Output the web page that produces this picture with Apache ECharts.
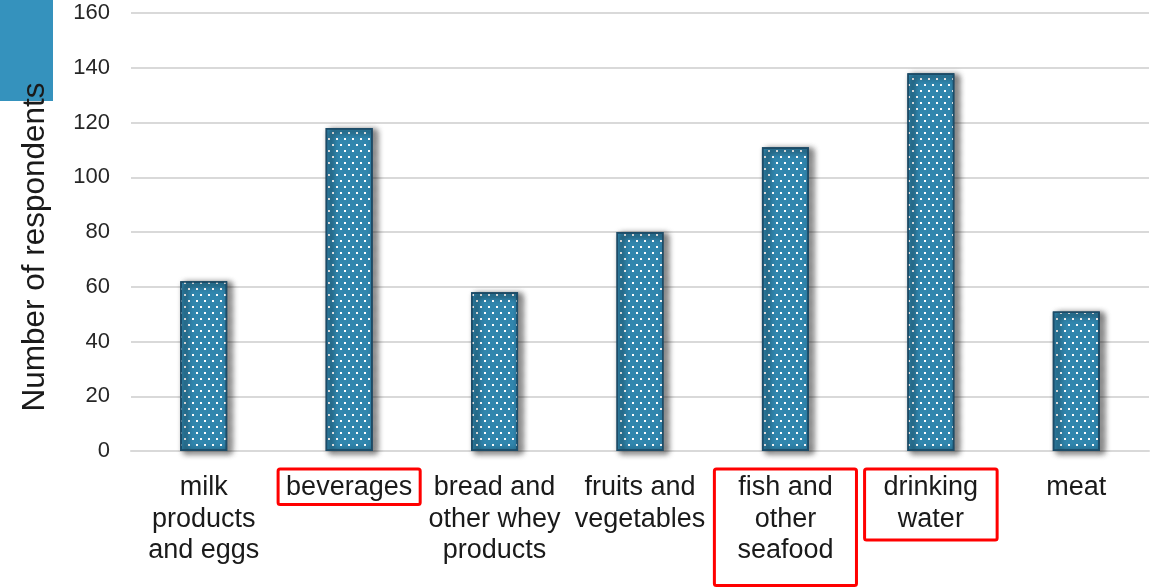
<!DOCTYPE html>
<html>
<head>
<meta charset="utf-8">
<title>Number of respondents</title>
<script src="https://cdn.jsdelivr.net/npm/echarts@6/dist/echarts.min.js"></script>
<style>
    html, body {margin: 0; padding: 0; background: #fff;}
    #chart {width: 1156px; height: 587px;}
</style>
</head>
<body>
<div id="chart"></div>
<script>
// data
var categories = [
    'milk\nproducts\nand eggs',
    'beverages',
    'bread and\nother whey\nproducts',
    'fruits and\nvegetables',
    'fish and\nother\nseafood',
    'drinking\nwater',
    'meat'
];
var respondents = [62, 118, 58, 80, 111, 138, 51];
// categories that have a red box round their label, with the box padding
var boxed = {
    'beverages': [3, 8, 1, 8],
    'fish and\nother\nseafood': [3, 23, 19, 23],
    'drinking\nwater': [3, 19, 5, 19]
};

var fontName = 'Arial, "Liberation Sans", sans-serif';
var barColor = '#3592bd';

var axisData = categories.map(function (name) {
    if (!boxed[name]) {
        return name;
    }
    return {
        value: name,
        textStyle: {
            borderColor: '#ff0000',
            borderWidth: 3,
            borderRadius: 2,
            padding: boxed[name]
        }
    };
});

var myChart = echarts.init(document.getElementById('chart'));
var option = {
    backgroundColor: '#fff',
    animation: false,
    aria: {
        enabled: true,
        decal: {show: true}
    },
    graphic: [
        {
            type: 'rect',
            left: 0,
            top: 0,
            z: -10,
            shape: {width: 53, height: 101},
            style: {fill: barColor}
        }
    ],
    grid: {
        left: 131,
        right: 7,
        top: 13,
        bottom: 135
    },
    xAxis: {
        type: 'category',
        data: axisData,
        axisTick: {show: false},
        axisLine: {lineStyle: {color: '#d9d9d9', width: 2}},
        axisLabel: {
            interval: 0,
            margin: 18,
            padding: [3, 0, 0, 0],
            color: '#1a1a1a',
            fontSize: 27,
            lineHeight: 31.5,
            fontFamily: fontName
        }
    },
    yAxis: {
        type: 'value',
        min: 0,
        max: 160,
        interval: 20,
        name: 'Number of respondents',
        nameLocation: 'middle',
        nameRotate: 90,
        nameGap: 80,
        nameTextStyle: {
            color: '#1a1a1a',
            fontSize: 31.5,
            fontFamily: fontName,
            padding: [0, 30, 0, 0]
        },
        axisLine: {show: false},
        axisTick: {show: false},
        axisLabel: {
            margin: 21,
            color: '#262626',
            fontSize: 22,
            fontFamily: fontName
        },
        splitLine: {lineStyle: {color: '#d9d9d9', width: 2}}
    },
    series: [
        {
            name: 'respondents',
            type: 'bar',
            data: respondents,
            barWidth: 47,
            itemStyle: {
                color: barColor,
                borderColor: '#1d4c68',
                borderWidth: 1.5,
                shadowColor: 'rgba(0,0,0,0.35)',
                shadowBlur: 6,
                shadowOffsetX: 4,
                shadowOffsetY: 2,
                decal: {
                    symbol: 'rect',
                    symbolSize: 1,
                    color: '#ffffff',
                    rotation: 0,
                    dashArrayX: [[2, 6], [0, 4, 2, 2]],
                    dashArrayY: [2, 3.3]
                }
            }
        }
    ]
};
myChart.setOption(option);
</script>
</body>
</html>
